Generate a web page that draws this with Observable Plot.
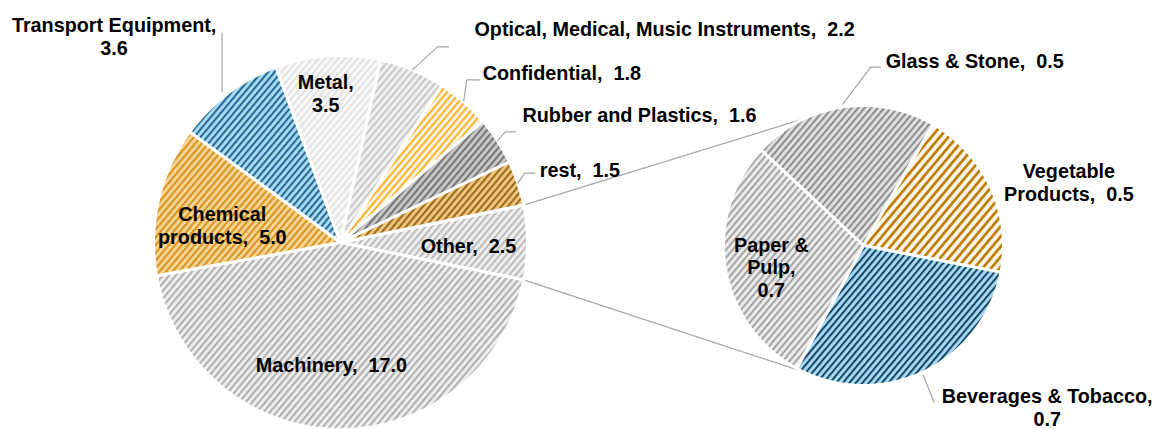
<!DOCTYPE html>
<html><head><meta charset="utf-8">
<script src="https://cdn.jsdelivr.net/npm/d3@7"></script>
<script src="https://cdn.jsdelivr.net/npm/@observablehq/plot@0.6"></script>
<style>html,body{margin:0;padding:0;background:#fff;} #chart svg{display:block}</style>
</head><body><div id="chart"></div>
<script>
// ---------- DATA ----------
const otherCategory = "Other";
const mainCategories = ["Machinery", "Chemical products", "Transport Equipment", "Metal",
  "Optical, Medical, Music Instruments", "Confidential", "Rubber and Plastics", "rest"];
const mainValues = [17.0, 5.0, 3.6, 3.5, 2.2, 1.8, 1.6, 1.5];
const splitCategories = ["Glass & Stone", "Vegetable Products", "Beverages & Tobacco", "Paper & Pulp"];
const splitValues = [0.53, 0.49, 0.74, 0.72];

// ---------- LAYOUT / STYLE ----------
const W = 1156, H = 429;
const C1 = [340, 242], R1 = 187;
const C2 = [863, 245], R2 = 140;
const deg = Math.PI / 180;
const splitStart = -47 * deg;
const connectorAngles = [335 * deg, 206 * deg];

const patterns = {
  "Other": ["#efefef", "#bebebe"],
  "Machinery": ["#efefef", "#b2b2b2"],
  "Chemical products": ["#fcd792", "#d6962a"],
  "Transport Equipment": ["#a9ddf6", "#2a6a94"],
  "Metal": ["#f8f8f8", "#e2e2e2"],
  "Optical, Medical, Music Instruments": ["#f0f0f0", "#c8c8c8"],
  "Confidential": ["#fff4de", "#f5b53a"],
  "Rubber and Plastics": ["#c9c9c9", "#787878"],
  "rest": ["#edc880", "#9e6b1c"],
  "Glass & Stone": ["#e0e0e0", "#8e8e8e"],
  "Vegetable Products": ["#fcf5e8", "#bf7e0c"],
  "Beverages & Tobacco": ["#a6dcf5", "#1d4766"],
  "Paper & Pulp": ["#ededed", "#a6a6a6"]
};

const labelLayout = {
  "Transport Equipment": {dx: -114, dy: -57, align: "middle", valNewLine: true, leader: [[-6, -1], [-6, -60]]},
  "Metal": {dx: -2, dy: 37, align: "middle", valNewLine: true},
  "Optical, Medical, Music Instruments": {dx: 62, dy: -41, align: "start", leader: [[0, 0], [25, -23], [36, -23]]},
  "Confidential": {dx: 19, dy: -29, align: "start", leader: [[0, -1], [3, -22], [16, -22]]},
  "Rubber and Plastics": {dx: 25, dy: -26, align: "start", leader: [[0, 0], [8, -9], [18, -9]]},
  "rest": {dx: 22, dy: -13, align: "start", leader: [[0, 0], [7, -10], [17, -10]]},
  "Other": {dx: -59, dy: 3, align: "middle"},
  "Machinery": {dx: -7, dy: -65, align: "middle"},
  "Chemical products": {dx: 64, dy: 25, align: "middle", nameLines: ["Chemical", "products"]},
  "Glass & Stone": {dx: 43, dy: -46, align: "start", leader: [[0, -3], [28, -40], [38, -40]]},
  "Vegetable Products": {dx: 78, dy: -5, align: "middle", nameLines: ["Vegetable", "Products"]},
  "Beverages & Tobacco": {dx: 124, dy: 35, align: "middle", valNewLine: true, leader: [[0, 3], [11, 30]]},
  "Paper & Pulp": {dx: 46, dy: -1, align: "middle", valNewLine: true, nameLines: ["Paper &", "Pulp"]}
};

// ---------- GEOMETRY FROM DATA ----------
const pt = (c, r, a) => [c[0] + r * Math.sin(a), c[1] - r * Math.cos(a)];

const otherValue = d3.sum(splitValues);
const mainData = [{name: otherCategory, value: otherValue},
  ...mainCategories.map((n, i) => ({name: n, value: mainValues[i]}))];
const mainTotal = d3.sum(mainData, d => d.value);
const mainStart = Math.PI / 2 - (otherValue / mainTotal) * Math.PI;
const mainArcs = d3.pie().sort(null).value(d => d.value)
  .startAngle(mainStart).endAngle(mainStart + 2 * Math.PI)(mainData)
  .map(a => ({...a, c: C1, r: R1}));

const splitData = splitCategories.map((n, i) => ({name: n, value: splitValues[i]}));
const splitArcs = d3.pie().sort(null).value(d => d.value)
  .startAngle(splitStart).endAngle(splitStart + 2 * Math.PI)(splitData)
  .map(a => ({...a, c: C2, r: R2}));

const allArcs = [...mainArcs, ...splitArcs];

const slicePoints = [];
for (const a of allArcs) {
  const [cx, cy] = a.c;
  slicePoints.push({name: a.data.name, x: cx, y: cy});
  const n = Math.max(2, Math.ceil((a.endAngle - a.startAngle) / (0.5 * deg)));
  for (let k = 0; k <= n; k++) {
    const ang = a.startAngle + (a.endAngle - a.startAngle) * k / n;
    const [x, y] = pt(a.c, a.r, ang);
    slicePoints.push({name: a.data.name, x, y});
  }
}

// connectors between the "Other" slice and the split pie
const otherArc = mainArcs[0];
const connectorPoints = [];
[[otherArc.startAngle, connectorAngles[0]], [otherArc.endAngle, connectorAngles[1]]].forEach(([a1, a2], i) => {
  const p1 = pt(C1, R1, a1), p2 = pt(C2, R2, a2);
  connectorPoints.push({g: i, x: p1[0], y: p1[1]}, {g: i, x: p2[0], y: p2[1]});
});

// labels
const labels = [], leaderPoints = [];
for (const a of allArcs) {
  const name = a.data.name;
  const L = labelLayout[name];
  const mid = (a.startAngle + a.endAngle) / 2;
  const [ox, oy] = pt(a.c, a.r, mid);
  const lines = (L.nameLines || [name]).join("\n");
  const v = a.data.value.toFixed(1);
  const text = lines + "," + (L.valNewLine ? "\n" : "\u00a0 ") + v;
  labels.push({name, text, align: L.align, x: ox + L.dx, y: oy + L.dy});
  if (L.leader) L.leader.forEach(([dx, dy]) => leaderPoints.push({name, x: ox + dx, y: oy + dy}));
}

const allNames = allArcs.map(a => a.data.name);
const ids = new Map(allNames.map((n, i) => [n, "pat" + i]));

const textStyle = {fontSize: 19.8, fontWeight: "bold", fill: "#000", lineHeight: 1.15};

const svg = Plot.plot({
  width: W, height: H, margin: 0,
  x: {domain: [0, W], range: [0, W], axis: null},
  y: {domain: [0, H], range: [0, H], axis: null},
  color: {type: "ordinal", domain: allNames, range: allNames.map(n => `url(#${ids.get(n)})`)},
  style: {background: "#fff", fontFamily: "'Liberation Sans', Arial, sans-serif"},
  marks: [
    Plot.line(connectorPoints, {x: "x", y: "y", z: "g", stroke: "#a6a6a6", strokeWidth: 1.2}),
    Plot.line(slicePoints, {x: "x", y: "y", z: "name", fill: "name", stroke: "#fff", strokeWidth: 3,
      curve: "linear-closed", strokeLinejoin: "miter", strokeMiterlimit: 2}),
    Plot.line(leaderPoints, {x: "x", y: "y", z: "name", stroke: "#a6a6a6", strokeWidth: 1.2}),
    Plot.text(labels.filter(d => d.align === "middle"), {x: "x", y: "y", text: "text", textAnchor: "middle", ...textStyle}),
    Plot.text(labels.filter(d => d.align === "start"), {x: "x", y: "y", text: "text", textAnchor: "start", ...textStyle})
  ]
});

// hatch patterns
const defs = d3.select(svg).insert("defs", ":first-child");
for (const n of allNames) {
  const [bg, fg] = patterns[n];
  const big = n === "Vegetable Products";
  const s = big ? 6.5 : 5;
  const p = defs.append("pattern").attr("id", ids.get(n))
    .attr("patternUnits", "userSpaceOnUse").attr("width", s).attr("height", s)
    .attr("patternTransform", "rotate(40)");
  p.append("rect").attr("width", s).attr("height", s).attr("fill", bg);
  p.append("rect").attr("width", s * 0.42).attr("height", s).attr("fill", fg);
}

document.getElementById("chart").appendChild(svg);
</script>
</body></html>
